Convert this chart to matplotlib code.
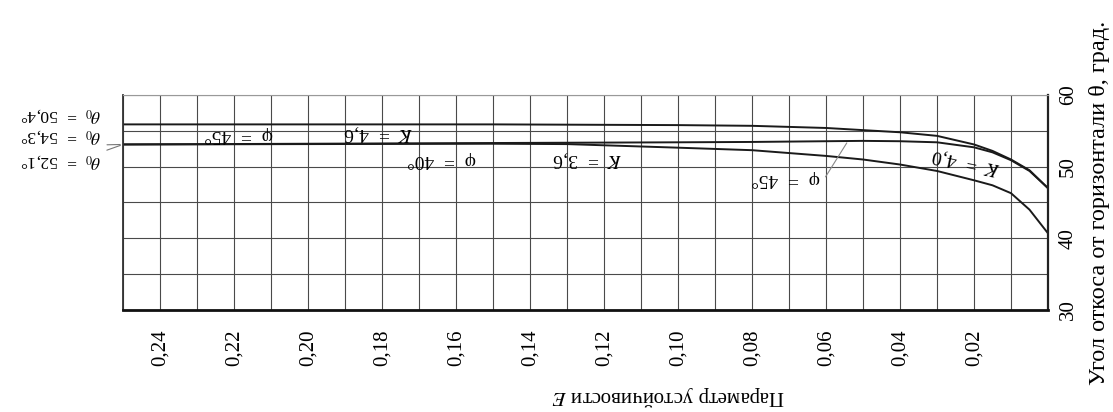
import matplotlib
matplotlib.use("Agg")
import matplotlib.pyplot as plt
import numpy as np

plt.rcParams['font.family'] = ['Liberation Serif', 'DejaVu Serif']
plt.rcParams['mathtext.fontset'] = 'stix'

# stability parameter E and slope angle theta (deg)
E_a = [0.25, 0.20, 0.15, 0.10, 0.08, 0.06, 0.05, 0.04, 0.03, 0.02, 0.015, 0.01, 0.005, 0.0]
theta_a = [55.9, 55.9, 55.9, 55.8, 55.7, 55.4, 55.1, 54.8, 54.3, 53.1, 52.2, 51.0, 49.5, 47.0]

E_b = [0.25, 0.20, 0.15, 0.10, 0.08, 0.06, 0.05, 0.04, 0.03, 0.02, 0.015, 0.01, 0.005, 0.0]
theta_b = [53.1, 53.2, 53.3, 53.4, 53.45, 53.55, 53.6, 53.55, 53.4, 52.7, 52.0, 50.9, 49.4, 47.0]

E_c = [0.25, 0.20, 0.15, 0.13, 0.10, 0.08, 0.06, 0.05, 0.04, 0.03, 0.02, 0.015, 0.01, 0.005, 0.0]
theta_c = [53.1, 53.15, 53.2, 53.15, 52.65, 52.3, 51.5, 51.0, 50.3, 49.4, 48.1, 47.4, 46.3, 44.0, 40.7]

theta0_labels = ['50,4', '54,3', '52,1']

xticks = np.round(np.arange(0, 0.2501, 0.01), 2)
xticklabels = ['' if (i % 2 or i == 0) else ('%.2f' % v).replace('.', ',') for i, v in enumerate(xticks)]
yticks = np.arange(30, 61, 5)
yticklabels = [str(v) if v % 10 == 0 else '' for v in yticks]

fig = plt.figure(figsize=(11.13, 4.12), dpi=100)
ax = fig.add_axes([0.1105, 0.2476, 0.8311, 0.5218])

ax.set_xlim(0.25, 0)
ax.set_ylim(30, 60)
ax.set_xticks(xticks)
ax.set_xticklabels(xticklabels, rotation=90, fontsize=15)
ax.set_yticks(yticks)
ax.set_yticklabels(yticklabels, rotation=90, fontsize=15, va='center')
ax.yaxis.tick_right()
ax.tick_params(length=0, pad=14)
ax.tick_params(axis='y', pad=8)
ax.grid(True, color='#4a4a4a', lw=0.8)

for side, lw, c in [('bottom', 2.0, '#111'), ('right', 1.6, '#222'),
                    ('left', 1.3, '#333'), ('top', 0.8, '#999')]:
    ax.spines[side].set_linewidth(lw)
    ax.spines[side].set_color(c)

for E, th in [(E_a, theta_a), (E_b, theta_b), (E_c, theta_c)]:
    ax.plot(E, th, color='#1a1a1a', lw=1.4, solid_joinstyle='round')

ax.yaxis.set_label_position('right')
ax.set_ylabel('Угол откоса от горизонтали θ, град.', fontsize=17.5, labelpad=8)

fig.text(0.60, 0.04, 'Параметр устойчивости $E$', rotation=180,
         ha='center', va='center', fontsize=15)

# curve labels (upside down, as printed)
notes = [
    (0.2188, 54.45, 'φ  =  45°', 180),
    (0.181, 54.7, '$K$  =  4,6', 180),
    (0.1638, 50.95, 'φ  =  40°', 180),
    (0.1244, 51.05, '$K$  =  3,6', 180),
    (0.0710, 48.3, 'φ  =  45°', 180),
    (0.0220, 50.7, '$K$  =  4,0', 168),
]
for x, y, s, r in notes:
    ax.text(x, y, s, rotation=r, ha='center', va='center', fontsize=14)

ax.plot([0.0601, 0.0544], [48.6, 53.3], color='#888', lw=0.8)

# theta_0 labels on the left
lab_kw = dict(xycoords='data', textcoords='figure pixels', rotation=180,
              ha='center', va='center', fontsize=12.5, annotation_clip=False)
ax.annotate(r'$\theta_0$  =  %s°' % theta0_labels[0], xy=(0.25, theta_a[0]),
            xytext=(61, 412 - 115), **lab_kw)
ax.annotate(r'$\theta_0$  =  %s°' % theta0_labels[1], xy=(0.25, theta_b[0]),
            xytext=(61, 412 - 136), **lab_kw,
            arrowprops=dict(arrowstyle='-', color='#777', lw=0.8, relpos=(1, 0)))
ax.annotate(r'$\theta_0$  =  %s°' % theta0_labels[2], xy=(0.25, theta_c[0]),
            xytext=(61, 412 - 161), **lab_kw,
            arrowprops=dict(arrowstyle='-', color='#777', lw=0.8, relpos=(1, 1)))

fig.savefig('out.png', dpi=100)
